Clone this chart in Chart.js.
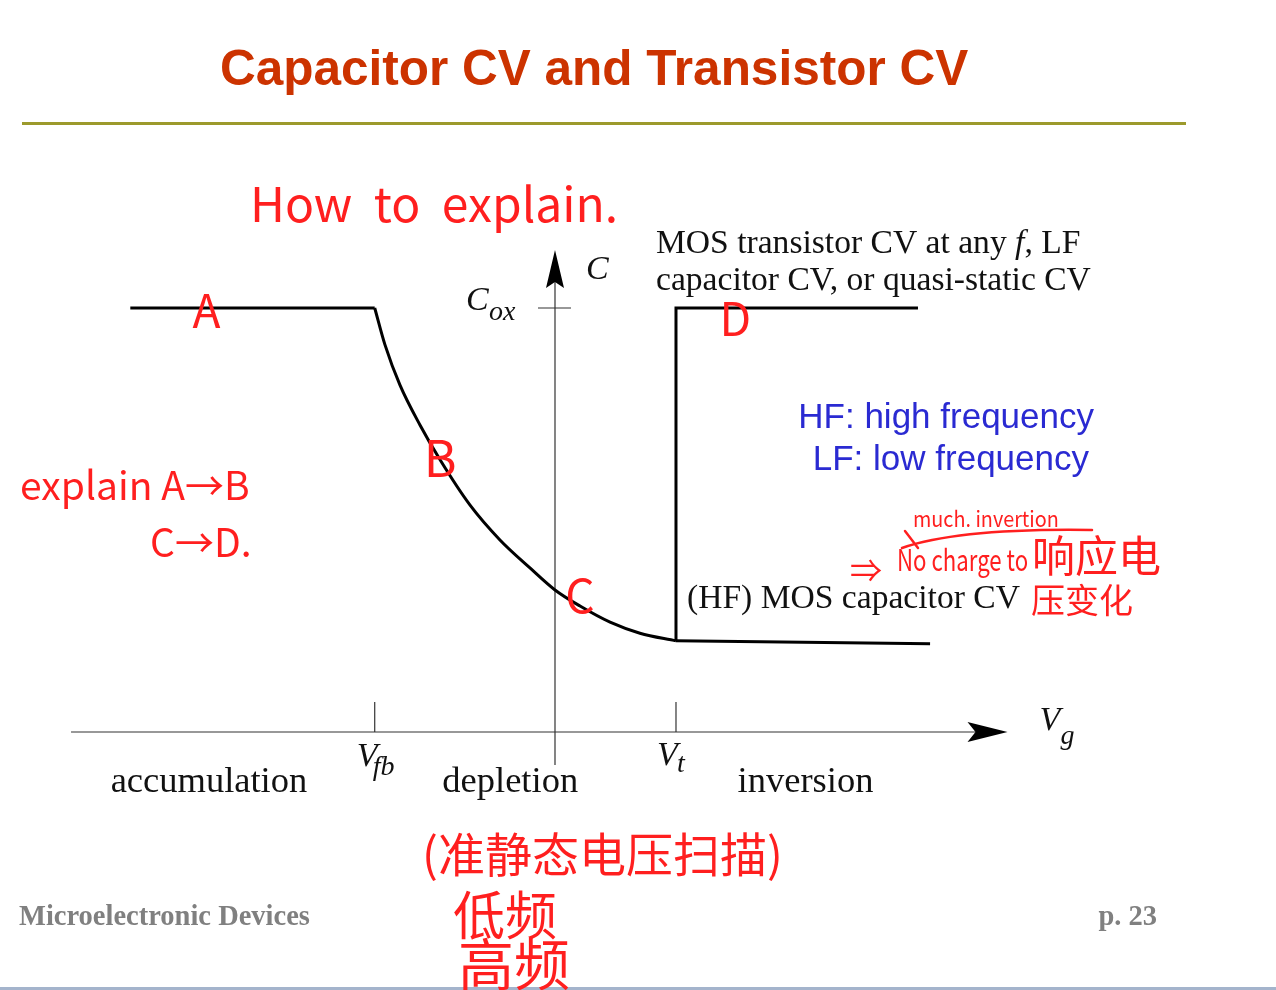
<!DOCTYPE html>
<html><head><meta charset="utf-8">
<script src="https://cdn.jsdelivr.net/npm/chart.js@4/dist/chart.umd.min.js"></script>
<style>html,body{margin:0;padding:0;background:#fff;overflow:hidden}canvas{display:block}</style>
</head><body>
<canvas id="c" width="1276" height="990"></canvas>
<script>
// ---- data (Vg in volts, C normalised to Cox) ----
const accumVg = [-3.51, -1.49];
const accumC = [1.0, 1.0];
const depletionVg = [-1.49, -1.405, -1.281, -1.116, -0.950, -0.702, -0.455, -0.207, 0.0, 0.207, 0.455, 0.702, 1.0];
const depletionC = [1.0, 0.913, 0.818, 0.724, 0.642, 0.535, 0.453, 0.387, 0.335, 0.297, 0.259, 0.233, 0.215];
const hfVg = [1.0, 3.10];
const hfC = [0.215, 0.208];
const lfVg = [1.0, 1.0, 3.0];
const lfC = [0.215, 1.0, 1.0];
const Vfb = -1.49, Vt = 1.0, Cox = 1.0;
const regionLabels = ['accumulation', 'depletion', 'inversion'];
const regionVg = [-2.86, -0.37, 2.07];
const pointLetters = ['A', 'B', 'C', 'D'];
const pointLetterVg = [-2.88, -0.95, 0.207, 1.49];
const pointLetterC = [0.995, 0.646, 0.323, 0.976];
const axisVgRange = [-4.0, 3.74];
const axisCRange = [-0.078, 1.137];

function pts(xs, ys) { return xs.map((x, i) => ({ x: x, y: ys[i] })); }

const SERIF = '"Liberation Serif","DejaVu Serif",serif';
const SANS = '"Liberation Sans",Arial,sans-serif';
const HAND = '"Noto Sans CJK SC","Noto Sans",sans-serif';
const RED = '#ff1f1f';

function txt(ctx, s, x, y, font, color, align, base, sx) {
  ctx.save();
  ctx.font = font; ctx.fillStyle = color;
  ctx.textAlign = align || 'left'; ctx.textBaseline = base || 'alphabetic';
  if (sx) { ctx.translate(x, y); ctx.scale(sx, 1); ctx.fillText(s, 0, 0); }
  else ctx.fillText(s, x, y);
  ctx.restore();
}

const slidePlugin = {
  id: 'slide',
  beforeDatasetsDraw(chart) {
    const ctx = chart.ctx, xs = chart.scales.x, ys = chart.scales.y;
    const px = v => xs.getPixelForValue(v), py = v => ys.getPixelForValue(v);
    ctx.save();
    // title
    txt(ctx, 'Capacitor CV and Transistor CV', 220, 85, 'bold 49.5px ' + SANS, '#cc3300');
    ctx.fillStyle = '#9c9a2c'; ctx.fillRect(22, 122, 1164, 3);
    // axes
    ctx.strokeStyle = '#333'; ctx.lineWidth = 1.2;
    const y0 = py(0), x0 = px(0);
    ctx.beginPath(); ctx.moveTo(px(axisVgRange[0]), y0); ctx.lineTo(px(axisVgRange[1]) - 30, y0); ctx.stroke();
    ctx.beginPath(); ctx.moveTo(x0, py(axisCRange[0])); ctx.lineTo(x0, py(axisCRange[1]) + 30); ctx.stroke();
    // arrow heads
    ctx.fillStyle = '#000';
    const tx = px(axisVgRange[1]);
    ctx.beginPath(); ctx.moveTo(tx, y0); ctx.lineTo(tx - 40, y0 - 10); ctx.lineTo(tx - 32, y0); ctx.lineTo(tx - 40, y0 + 10); ctx.closePath(); ctx.fill();
    const ty = py(axisCRange[1]);
    ctx.beginPath(); ctx.moveTo(x0, ty); ctx.lineTo(x0 - 9, ty + 38); ctx.lineTo(x0, ty + 32); ctx.lineTo(x0 + 9, ty + 38); ctx.closePath(); ctx.fill();
    // ticks
    ctx.strokeStyle = '#333'; ctx.lineWidth = 1.2;
    [Vfb, Vt].forEach(v => { ctx.beginPath(); ctx.moveTo(px(v), y0 - 30); ctx.lineTo(px(v), y0); ctx.stroke(); });
    ctx.beginPath(); ctx.moveTo(x0 - 17, py(Cox)); ctx.lineTo(x0 + 16, py(Cox)); ctx.stroke();
    // axis labels
    const it = 'italic 34px ' + SERIF, sub = 'italic 28px ' + SERIF;
    txt(ctx, 'C', x0 + 31, py(1.137) + 29, it, '#111');
    txt(ctx, 'C', x0 - 89, py(Cox) + 2, it, '#111');
    txt(ctx, 'ox', x0 - 66, py(Cox) + 12, sub, '#111');
    txt(ctx, 'V', px(Vfb) - 18, y0 + 34, it, '#111');
    txt(ctx, 'fb', px(Vfb) - 2, y0 + 43, sub, '#111');
    txt(ctx, 'V', px(Vt) - 19, y0 + 33, it, '#111');
    txt(ctx, 't', px(Vt) + 1, y0 + 40, sub, '#111');
    txt(ctx, 'V', px(axisVgRange[1]) + 32, y0 - 2, it, '#111');
    txt(ctx, 'g', px(axisVgRange[1]) + 53, y0 + 12, sub, '#111');
    // region labels
    regionLabels.forEach((s, i) => txt(ctx, s, px(regionVg[i]), y0 + 60, '36.5px ' + SERIF, '#111', 'center'));
    // curve descriptions
    const F = '33.6px ' + SERIF, FI = 'italic 33.6px ' + SERIF;
    txt(ctx, 'MOS transistor CV at any ', 656, 253, F, '#111');
    ctx.font = F;
    let w = ctx.measureText('MOS transistor CV at any ').width;
    txt(ctx, 'f', 656 + w, 253, FI, '#111');
    ctx.font = FI;
    let w2 = ctx.measureText('f').width;
    txt(ctx, ', LF', 656 + w + w2, 253, F, '#111');
    txt(ctx, 'capacitor CV, or quasi-static CV', 656, 290, F, '#111');
    txt(ctx, '(HF) MOS capacitor CV', 687, 608, F, '#111');
    // legend text
    txt(ctx, 'HF: high frequency', 1094, 428, '35px ' + SANS, '#2a2ad2', 'right');
    txt(ctx, 'LF: low frequency', 1089, 470, '35px ' + SANS, '#2a2ad2', 'right');
    // footer
    txt(ctx, 'Microelectronic Devices', 19, 925, 'bold 28.5px ' + SERIF, '#808080');
    txt(ctx, 'p. 23', 1157, 925, 'bold 28.5px ' + SERIF, '#808080', 'right');
    ctx.fillStyle = '#a4b4cc'; ctx.fillRect(0, 987, 1276, 3);
    ctx.restore();
  },
  afterDraw(chart) {
    const ctx = chart.ctx, xs = chart.scales.x, ys = chart.scales.y;
    const px = v => xs.getPixelForValue(v), py = v => ys.getPixelForValue(v);
    ctx.save();
    // handwritten red annotations
    pointLetters.forEach((s, i) => txt(ctx, s, px(pointLetterVg[i]), py(pointLetterC[i]), (i === 1 ? '50px ' : '46px ') + HAND, RED, 'center', 'middle'));
    txt(ctx, 'How  to  explain.', 250, 222, '48px ' + HAND, RED);
    txt(ctx, 'explain A\u2192B', 20, 500, '39px ' + HAND, RED);
    txt(ctx, 'C\u2192D.', 150, 557, '39px ' + HAND, RED);
    txt(ctx, 'much. invertion', 913, 527, '22px ' + HAND, RED, 'left', 'alphabetic', 0.9);
    ctx.strokeStyle = RED; ctx.lineWidth = 2.5; ctx.lineCap = 'round';
    ctx.beginPath(); ctx.moveTo(902, 548); ctx.quadraticCurveTo(960, 528, 1092, 530); ctx.stroke();
    ctx.beginPath(); ctx.moveTo(905, 531); ctx.lineTo(918, 548); ctx.stroke();
    txt(ctx, '\u21D2', 850, 582, '32px ' + HAND, RED);
    txt(ctx, 'No charge to', 897, 571, '30px ' + HAND, RED, 'left', 'alphabetic', 0.74);
    txt(ctx, '响应电', 1032, 572, '43px ' + HAND, RED);
    txt(ctx, '压变化', 1031, 613, '34px ' + HAND, RED);
    txt(ctx, '(准静态电压扫描)', 422, 872, '47px ' + HAND, RED);
    txt(ctx, '低频', 453, 935, '52px ' + HAND, RED);
    txt(ctx, '高频', 458, 985, '56px ' + HAND, RED);
    ctx.restore();
  }
};

const lineStyle = { borderColor: '#000', borderWidth: 3, pointRadius: 0, showLine: true, fill: false, borderJoinStyle: 'miter' };

new Chart(document.getElementById('c'), {
  type: 'scatter',
  data: {
    datasets: [
      Object.assign({ label: 'accumulation', data: pts(accumVg, accumC), tension: 0 }, lineStyle),
      Object.assign({ label: 'depletion', data: pts(depletionVg, depletionC), cubicInterpolationMode: 'monotone' }, lineStyle),
      Object.assign({ label: 'HF inversion', data: pts(hfVg, hfC), tension: 0 }, lineStyle),
      Object.assign({ label: 'LF / transistor', data: pts(lfVg, lfC), tension: 0 }, lineStyle)
    ]
  },
  options: {
    responsive: false, devicePixelRatio: 1, animation: false,
    layout: { padding: 0 },
    plugins: { legend: { display: false }, tooltip: { enabled: false } },
    scales: {
      x: { type: 'linear', display: false, min: -4.587, max: 5.959 },
      y: { type: 'linear', display: false, min: -0.6085, max: 1.7264 }
    }
  },
  plugins: [slidePlugin]
});
</script>
</body></html>
